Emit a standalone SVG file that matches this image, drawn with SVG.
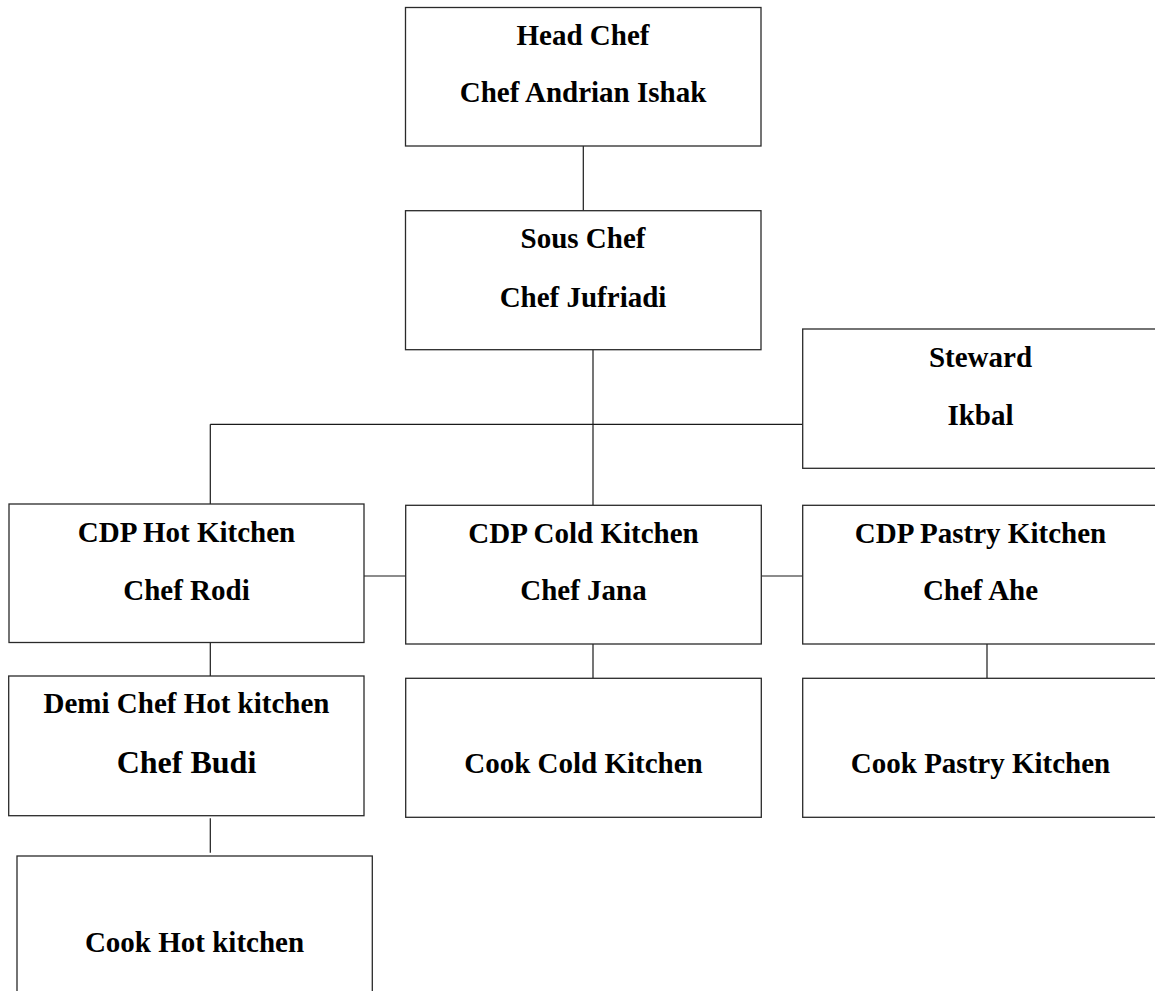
<svg xmlns="http://www.w3.org/2000/svg" width="1155" height="991" viewBox="0 0 1155 991">
<style>
.box{fill:#fff;stroke:#2a2a2a;stroke-width:1.3}
.c{fill:none;stroke:#1a1a1a;stroke-width:1.2}
text{font-family:"Liberation Serif","Times New Roman",serif;font-weight:bold;font-size:29px;fill:#000;text-anchor:middle}
.big{font-size:32px}
</style>
<rect width="1155" height="991" fill="#fff"/>
<g id="connectors">
<line class="c" x1="583.3" y1="146" x2="583.3" y2="210.7"/>
<line class="c" x1="593" y1="349.7" x2="593" y2="505"/>
<line class="c" x1="210.3" y1="424.3" x2="802.7" y2="424.3"/>
<line class="c" x1="210.3" y1="424.3" x2="210.3" y2="504"/>
<line class="c" x1="364" y1="576" x2="405.7" y2="576"/>
<line class="c" x1="761.3" y1="576" x2="802.7" y2="576"/>
<line class="c" x1="593" y1="644" x2="593" y2="678.3"/>
<line class="c" x1="987" y1="644" x2="987" y2="678.3"/>
<line class="c" x1="210.3" y1="642.7" x2="210.3" y2="676"/>
<line class="c" x1="210.3" y1="818.3" x2="210.3" y2="852.7"/>
</g>
<g id="head-chef">
<rect class="box" x="405.5" y="7.5" width="355.5" height="138.5"/>
<text x="583" y="45">Head Chef</text>
<text x="583" y="101.7">Chef Andrian Ishak</text>
</g>
<g id="sous-chef">
<rect class="box" x="405.5" y="210.7" width="355.5" height="139"/>
<text x="583" y="248.3">Sous Chef</text>
<text x="583" y="306.7">Chef Jufriadi</text>
</g>
<g id="steward">
<rect class="box" x="802.7" y="329" width="355.5" height="139.3"/>
<text x="980.5" y="366.7">Steward</text>
<text x="980.5" y="425">Ikbal</text>
</g>
<g id="cdp-hot">
<rect class="box" x="9" y="504" width="355" height="138.5"/>
<text x="186.5" y="541.7">CDP Hot Kitchen</text>
<text x="186.5" y="600">Chef Rodi</text>
</g>
<g id="cdp-cold">
<rect class="box" x="405.7" y="505.3" width="355.6" height="138.7"/>
<text x="583.5" y="542.7">CDP Cold Kitchen</text>
<text x="583.5" y="600">Chef Jana</text>
</g>
<g id="cdp-pastry">
<rect class="box" x="802.7" y="505.3" width="355.5" height="138.7"/>
<text x="980.5" y="542.7">CDP Pastry Kitchen</text>
<text x="980.5" y="600">Chef Ahe</text>
</g>
<g id="demi-hot">
<rect class="box" x="8.7" y="676" width="355.3" height="139.7"/>
<text x="186.5" y="713.3">Demi Chef Hot kitchen</text>
<text class="big" x="186.5" y="773.3">Chef Budi</text>
</g>
<g id="cook-cold">
<rect class="box" x="405.7" y="678.3" width="355.6" height="139"/>
<text x="583.5" y="773.3">Cook Cold Kitchen</text>
</g>
<g id="cook-pastry">
<rect class="box" x="802.7" y="678.3" width="355.5" height="139"/>
<text x="980.5" y="773.3">Cook Pastry Kitchen</text>
</g>
<g id="cook-hot">
<rect class="box" x="17" y="856" width="355.3" height="160"/>
<text x="194.5" y="951.7">Cook Hot kitchen</text>
</g>
</svg>
